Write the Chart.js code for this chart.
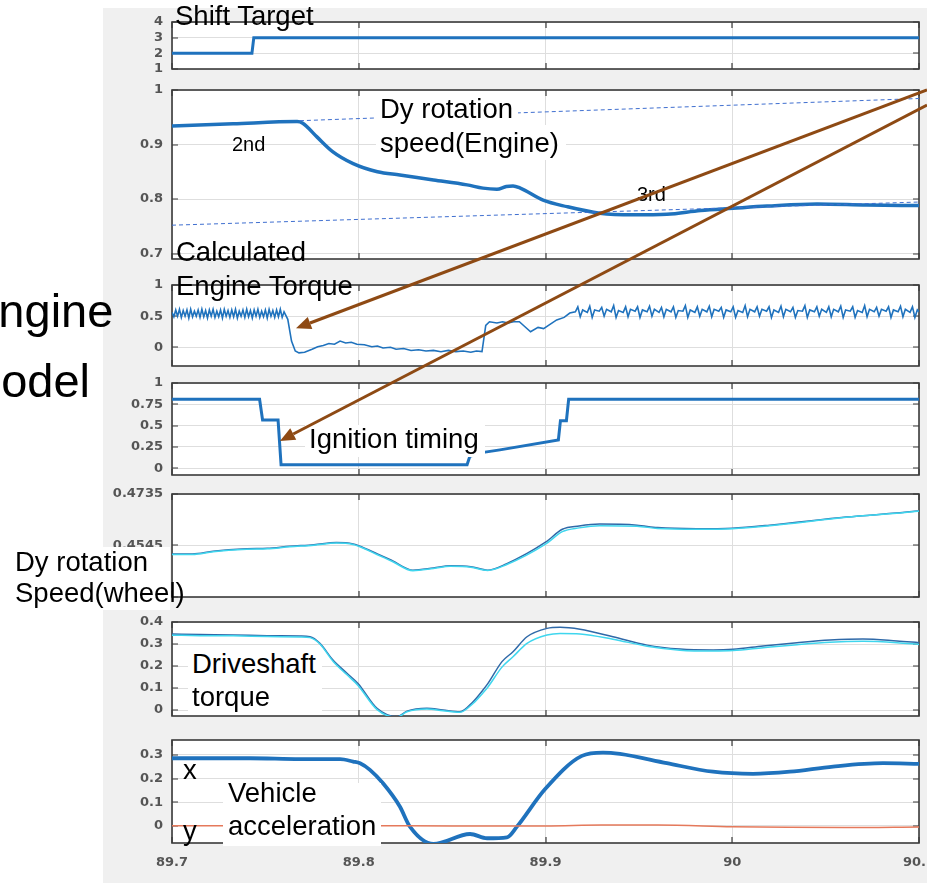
<!DOCTYPE html>
<html><head><meta charset="utf-8">
<script src="https://cdn.jsdelivr.net/npm/chart.js@4.4.1/dist/chart.umd.min.js"></script>
<style>
html,body{margin:0;padding:0;background:#fff;}
body{position:relative;width:927px;height:883px;overflow:hidden;font-family:"Liberation Sans",Arial,Helvetica,sans-serif;}
#fig{position:absolute;left:103px;top:8px;width:824px;height:875px;background:#f0f0f0;}
canvas.ch{position:absolute;left:0;z-index:1;}
.lbl{position:absolute;white-space:nowrap;color:#000;line-height:1;z-index:4;}
.wbox{position:absolute;background:#fff;z-index:3;}
#ov{position:absolute;left:0;top:0;pointer-events:none;z-index:5;}
</style></head><body>
<div id="fig"></div>
<script>
// ---------------- DATA ----------------
const xTicks = [89.7, 89.8, 89.9, 90.0, 90.1];

const shiftTarget = [[89.700,2],[89.7428,2],[89.7438,3],[90.100,3]];

const engineSpeed = [[89.700,0.934],[89.7327,0.938],[89.767,0.942],[89.770,0.939],[89.7776,0.914],[89.786,0.887],[89.797,0.865],[89.810,0.850],[89.822,0.844],[89.840,0.835],[89.858,0.826],[89.8665,0.820],[89.874,0.818],[89.879,0.823],[89.8826,0.824],[89.8865,0.820],[89.8987,0.798],[89.9115,0.786],[89.929,0.774],[89.947,0.771],[89.965,0.772],[89.983,0.779],[90.0004,0.783],[90.0186,0.787],[90.0454,0.791],[90.072,0.789],[90.100,0.788]];
const gear2Guide = [[89.7685,0.9437],[90.100,0.9844]];
const gear3Guide = [[89.700,0.752],[90.100,0.7945]];

const engineTorque = [
[89.700,0.56],[89.701,0.49],[89.702,0.60],[89.703,0.50],[89.704,0.61],[89.705,0.48],[89.706,0.59],[89.707,0.50],[89.708,0.60],[89.709,0.47],[89.710,0.61],[89.711,0.49],[89.712,0.58],[89.713,0.50],[89.714,0.60],[89.715,0.48],[89.716,0.61],[89.717,0.49],[89.718,0.59],[89.719,0.47],[89.720,0.60],[89.721,0.50],[89.722,0.61],[89.723,0.48],[89.724,0.58],[89.725,0.49],[89.726,0.60],[89.727,0.47],[89.728,0.61],[89.729,0.50],[89.730,0.59],[89.731,0.48],[89.732,0.60],[89.733,0.49],[89.734,0.61],[89.735,0.47],[89.736,0.58],[89.737,0.50],[89.738,0.60],[89.739,0.48],[89.740,0.61],[89.741,0.49],[89.742,0.59],[89.743,0.47],[89.744,0.60],[89.745,0.50],[89.746,0.61],[89.747,0.48],[89.748,0.58],[89.749,0.49],[89.750,0.60],[89.751,0.47],[89.752,0.61],[89.753,0.50],[89.754,0.59],[89.755,0.48],[89.756,0.60],[89.757,0.49],[89.758,0.61],[89.759,0.48],[89.760,0.57],
[89.762,0.45],[89.764,0.10],[89.766,-0.06],[89.768,-0.09],[89.771,-0.08],[89.775,-0.03],[89.778,0.01],[89.781,0.03],[89.784,0.06],[89.787,0.05],[89.790,0.10],[89.793,0.07],[89.796,0.08],[89.799,0.05],[89.803,0.04],[89.807,0.01],[89.810,0.02],[89.813,-0.01],[89.817,0.00],[89.820,-0.03],[89.824,-0.02],[89.828,-0.05],[89.832,-0.04],[89.836,-0.06],[89.840,-0.05],[89.844,-0.07],[89.848,-0.05],[89.852,-0.07],[89.856,-0.06],[89.860,-0.08],[89.863,-0.06],[89.866,-0.07],
[89.868,0.35],[89.870,0.41],[89.874,0.39],[89.877,0.41],[89.880,0.39],[89.883,0.41],[89.886,0.41],[89.889,0.33],[89.892,0.25],[89.896,0.32],[89.899,0.30],[89.902,0.36],[89.906,0.44],[89.910,0.48],[89.913,0.55],
[89.9160,0.57],[89.9173,0.65],[89.9186,0.49],[89.9199,0.60],
[89.9224,0.56],[89.9237,0.66],[89.9250,0.48],[89.9263,0.60],
[89.9288,0.58],[89.9301,0.64],[89.9314,0.50],[89.9327,0.61],
[89.9352,0.57],[89.9365,0.67],[89.9378,0.48],[89.9391,0.59],
[89.9416,0.56],[89.9429,0.65],[89.9442,0.49],[89.9455,0.61],
[89.9480,0.58],[89.9493,0.65],[89.9506,0.48],[89.9519,0.60],
[89.9544,0.57],[89.9557,0.66],[89.9570,0.50],[89.9583,0.61],
[89.9608,0.56],[89.9621,0.64],[89.9634,0.49],[89.9647,0.61],
[89.9672,0.57],[89.9685,0.65],[89.9698,0.48],[89.9711,0.59],
[89.9736,0.58],[89.9749,0.67],[89.9762,0.48],[89.9775,0.60],
[89.9800,0.56],[89.9813,0.65],[89.9826,0.50],[89.9839,0.61],
[89.9864,0.57],[89.9877,0.66],[89.9890,0.49],[89.9903,0.61],
[89.9928,0.58],[89.9941,0.64],[89.9954,0.48],[89.9967,0.60],
[89.9992,0.57],[90.0005,0.65],[90.0018,0.48],[90.0031,0.59],
[90.0056,0.56],[90.0069,0.67],[90.0082,0.49],[90.0095,0.61],
[90.0120,0.57],[90.0133,0.65],[90.0146,0.50],[90.0159,0.61],
[90.0184,0.58],[90.0197,0.65],[90.0210,0.48],[90.0223,0.60],
[90.0248,0.56],[90.0261,0.66],[90.0274,0.49],[90.0287,0.61],
[90.0312,0.57],[90.0325,0.64],[90.0338,0.48],[90.0351,0.59],
[90.0376,0.58],[90.0389,0.67],[90.0402,0.48],[90.0415,0.60],
[90.0440,0.57],[90.0453,0.65],[90.0466,0.50],[90.0479,0.61],
[90.0504,0.56],[90.0517,0.65],[90.0530,0.49],[90.0543,0.61],
[90.0568,0.57],[90.0581,0.66],[90.0594,0.48],[90.0607,0.60],
[90.0632,0.58],[90.0645,0.65],[90.0658,0.48],[90.0671,0.59],
[90.0696,0.56],[90.0709,0.67],[90.0722,0.49],[90.0735,0.61],
[90.0760,0.57],[90.0773,0.64],[90.0786,0.50],[90.0799,0.61],
[90.0824,0.58],[90.0837,0.65],[90.0850,0.48],[90.0863,0.60],
[90.0888,0.57],[90.0901,0.66],[90.0914,0.49],[90.0927,0.61],
[90.0952,0.56],[90.0965,0.65],[90.0978,0.48],[90.0991,0.60],
[90.1000,0.57]];

const ignitionTiming = [[89.700,0.81],[89.7469,0.81],[89.7485,0.565],[89.7568,0.565],[89.7584,0.04],[89.8580,0.04],[89.8595,0.14],[89.8659,0.183],[89.8756,0.215],[89.9069,0.332],[89.9080,0.558],[89.9112,0.558],[89.9124,0.809],[90.100,0.809]];

const wheelSpeedA = [[89.700,0.4514],[89.711,0.4514],[89.722,0.4524],[89.740,0.4533],[89.751,0.4535],[89.763,0.4542],[89.776,0.4548],[89.788,0.4556],[89.797,0.4551],[89.800,0.4544],[89.810,0.4514],[89.818,0.4489],[89.829,0.4454],[89.840,0.4462],[89.849,0.4470],[89.860,0.4467],[89.869,0.4454],[89.879,0.4477],[89.900,0.4557],[89.909,0.4605],[89.918,0.4617],[89.929,0.4624],[89.949,0.4620],[89.960,0.4611],[89.981,0.4607],[90.000,0.4609],[90.020,0.4620],[90.061,0.4650],[90.099,0.4672],[90.100,0.4673]];
const wheelSpeedB = [[89.700,0.4512],[89.711,0.4512],[89.722,0.4522],[89.740,0.4531],[89.751,0.4533],[89.763,0.4540],[89.776,0.4546],[89.788,0.4554],[89.797,0.4549],[89.800,0.4542],[89.810,0.4511],[89.818,0.4486],[89.829,0.4452],[89.840,0.4460],[89.849,0.4468],[89.860,0.4465],[89.869,0.4453],[89.879,0.4474],[89.900,0.4550],[89.909,0.4596],[89.918,0.4610],[89.929,0.4618],[89.949,0.4616],[89.960,0.4608],[89.981,0.4605],[90.000,0.4607],[90.020,0.4618],[90.061,0.4649],[90.099,0.4671],[90.100,0.4672]];

const driveTorqueA = [[89.700,0.345],[89.715,0.343],[89.7327,0.341],[89.7509,0.338],[89.7685,0.336],[89.7739,0.333],[89.7792,0.303],[89.7862,0.227],[89.7937,0.167],[89.7996,0.121],[89.8098,0.008],[89.8205,-0.030],[89.8258,-0.005],[89.8365,0.008],[89.8451,0.000],[89.8542,-0.008],[89.8612,0.038],[89.8665,0.091],[89.8692,0.121],[89.8767,0.220],[89.8826,0.265],[89.8901,0.333],[89.9008,0.371],[89.9078,0.376],[89.9185,0.367],[89.9361,0.333],[89.9544,0.295],[89.972,0.277],[89.9897,0.273],[90.0004,0.276],[90.0165,0.291],[90.0347,0.306],[90.0523,0.318],[90.070,0.323],[90.0882,0.314],[90.100,0.306]];
const driveTorqueB = [[89.700,0.340],[89.715,0.338],[89.7327,0.337],[89.7509,0.334],[89.7685,0.332],[89.7739,0.329],[89.7792,0.300],[89.7862,0.222],[89.7937,0.160],[89.7996,0.112],[89.8098,0.002],[89.8205,-0.033],[89.8258,-0.008],[89.8365,0.005],[89.8451,-0.003],[89.8542,-0.010],[89.8612,0.030],[89.8665,0.078],[89.8692,0.105],[89.8767,0.195],[89.8826,0.242],[89.8901,0.303],[89.9008,0.341],[89.9078,0.348],[89.9185,0.346],[89.9361,0.322],[89.9544,0.290],[89.972,0.272],[89.9897,0.268],[90.0004,0.270],[90.0165,0.283],[90.0347,0.297],[90.0523,0.308],[90.070,0.312],[90.0882,0.306],[90.100,0.298]];

const accelX = [[89.700,0.286],[89.7418,0.286],[89.7685,0.282],[89.790,0.282],[89.797,0.272],[89.8007,0.265],[89.806,0.237],[89.813,0.180],[89.822,0.082],[89.8274,-0.003],[89.840,-0.076],[89.8596,-0.034],[89.8687,-0.052],[89.8794,-0.048],[89.8847,-0.003],[89.8997,0.155],[89.9195,0.296],[89.9308,0.310],[89.9399,0.304],[89.965,0.265],[89.9897,0.229],[90.0111,0.220],[90.0309,0.229],[90.054,0.251],[90.0807,0.265],[90.100,0.262]];
const accelY = [[89.700,0.001],[89.800,0.001],[89.850,0.000],[89.900,0.000],[89.930,0.004],[89.960,0.004],[90.000,-0.003],[90.030,-0.006],[90.060,-0.007],[90.100,-0.004]];

const yTicks1 = [1,2,3,4];
const yTicks2 = [0.7,0.8,0.9,1];
const yTicks3 = [0,0.5,1];
const yTicks4 = [0,0.25,0.5,0.75,1];
const yTicks5 = [0.4355,0.4545,0.4735];
const yTicks6 = [0,0.1,0.2,0.3,0.4];
const yTicks7 = [0,0.1,0.2,0.3];

// ---------------- STYLE / LAYOUT ----------------
const FONT = '"Liberation Sans", Arial, Helvetica, sans-serif';
const TFONT = '"DejaVu Sans", Verdana, sans-serif';
const BLUE = '#1f72bd', DARKB = '#2f69a8', CYAN = '#3fd6ee', RED = '#e5795b', GUIDE = '#3f6fd0';
const GRID = '#dedede', AXC = '#3a3a3a', TICKC = '#555555';

const panels = [
  {top:22, bottom:69, min:1, max:4, ticks:yTicks1, sets:[{d:shiftTarget,c:BLUE,w:3}]},
  {top:90, bottom:259, min:0.69, max:1, ticks:yTicks2, sets:[
     {d:gear2Guide,c:GUIDE,w:1,dash:[4,3]},{d:gear3Guide,c:GUIDE,w:1,dash:[4,3]},
     {d:engineSpeed,c:BLUE,w:3.5,smooth:true}]},
  {top:285, bottom:366, min:-0.3, max:1, ticks:yTicks3, sets:[{d:engineTorque,c:BLUE,w:1.6}]},
  {top:383, bottom:475, min:-0.08, max:1, ticks:yTicks4, sets:[{d:ignitionTiming,c:BLUE,w:3}]},
  {top:494, bottom:597, min:0.4355, max:0.4735, ticks:yTicks5, sets:[{d:wheelSpeedB,c:CYAN,w:1.5,smooth:true},{d:wheelSpeedA,c:DARKB,w:1.5,smooth:true}]},
  {top:622, bottom:716, min:-0.027, max:0.4, ticks:yTicks6, sets:[{d:driveTorqueB,c:CYAN,w:1.5,smooth:true},{d:driveTorqueA,c:DARKB,w:1.5,smooth:true}]},
  {top:740, bottom:843, min:-0.072, max:0.363, ticks:yTicks7, last:true, sets:[{d:accelY,c:RED,w:1.5,smooth:true},{d:accelX,c:BLUE,w:3.8,smooth:true}]}
];

const boxPlugin = {
  id:'mbox',
  beforeDraw(chart){
    const a = chart.chartArea, c = chart.ctx;
    c.save(); c.fillStyle = '#fff';
    c.fillRect(a.left, a.top, a.right - a.left, a.bottom - a.top);
    c.restore();
  },
  beforeDatasetsDraw(chart){
    const a = chart.chartArea, c = chart.ctx, sy = chart.scales.y, sx = chart.scales.x;
    c.save();
    c.strokeStyle = AXC; c.lineWidth = 1.2;
    c.beginPath();
    sy.ticks.forEach(t => { const y = Math.round(sy.getPixelForValue(t.value));
      c.moveTo(a.left, y); c.lineTo(a.left + 6, y); c.moveTo(a.right, y); c.lineTo(a.right - 6, y); });
    sx.ticks.forEach(t => { const x = Math.round(sx.getPixelForValue(t.value));
      c.moveTo(x, a.top); c.lineTo(x, a.top + 6); c.moveTo(x, a.bottom); c.lineTo(x, a.bottom - 6); });
    c.stroke();
    c.lineWidth = 1.6;
    c.strokeRect(a.left, a.top, a.right - a.left, a.bottom - a.top);
    c.restore();
  }
};

const PAD = 12, XLBL = 40;
const charts = [], tops = [];
panels.forEach((p, i) => {
  const cv = document.createElement('canvas');
  cv.className = 'ch';
  const top = p.top - PAD;
  const h = (p.bottom - p.top) + PAD + (p.last ? XLBL : PAD);
  cv.width = 927; cv.height = h;
  cv.style.top = top + 'px'; cv.style.width = '927px'; cv.style.height = h + 'px';
  document.body.appendChild(cv);
  tops.push(top);
  const tickFont = {family: TFONT, size: 13, weight: 'bold'};
  const ch = new Chart(cv.getContext('2d'), {
    type: 'line',
    data: { datasets: p.sets.map(s => ({
      data: s.d.map(q => ({x: q[0], y: q[1]})),
      borderColor: s.c, borderWidth: s.w, borderDash: s.dash || [],
      pointRadius: 0, fill: false,
      cubicInterpolationMode: s.smooth ? 'monotone' : 'default', tension: 0
    }))},
    options: {
      responsive: false, animation: false, events: [],
      layout: {padding: {top: PAD, bottom: p.last ? 0 : PAD, left: 0, right: 8}},
      plugins: {legend: {display: false}, tooltip: {enabled: false}},
      scales: {
        x: {type: 'linear', min: 89.7, max: 90.1,
            afterBuildTicks: s => { s.ticks = xTicks.map(v => ({value: v})); },
            afterFit: s => { s.height = p.last ? XLBL : 0; s.paddingLeft = 0; s.paddingRight = 0; },
            grid: {color: GRID, lineWidth: 1, drawTicks: false},
            border: {display: false},
            ticks: {display: !!p.last, font: tickFont, color: TICKC, padding: 12, maxRotation: 0,
                    autoSkip: false, callback: v => String(Math.round(v * 10) / 10)}},
        y: {type: 'linear', min: p.min, max: p.max,
            afterBuildTicks: s => { s.ticks = p.ticks.map(v => ({value: v})); },
            afterFit: s => { s.width = 172; s.paddingTop = 0; s.paddingBottom = 0; },
            grid: {color: GRID, lineWidth: 1, drawTicks: false},
            border: {display: false},
            ticks: {font: tickFont, color: TICKC, padding: 9, autoSkip: false, callback: v => String(v)}}
      }
    },
    plugins: [boxPlugin]
  });
  charts.push(ch);
});

// ---------------- ANNOTATIONS ----------------
function addBox(l, t, w, h){ const d = document.createElement('div'); d.className = 'wbox';
  d.style.left = l + 'px'; d.style.top = t + 'px'; d.style.width = w + 'px'; d.style.height = h + 'px';
  document.body.appendChild(d); }
function addText(txt, left, base, size){ const d = document.createElement('div'); d.className = 'lbl';
  d.textContent = txt; d.style.left = left + 'px'; d.style.fontSize = size + 'px';
  d.style.top = (base - 0.8465 * size) + 'px'; document.body.appendChild(d); }

const LS = 27.5;
addBox(376, 95, 142, 30);
addBox(376, 125, 190, 35);
addBox(305, 425, 180, 32);
addBox(8, 547, 162, 63);
addBox(188, 648, 134, 65);
addBox(223, 783, 158, 63);

addText('Engine', -33, 327, 47);
addText('Model', -38, 397, 47);
addText('Shift Target', 175, 25, LS);
addText('Dy rotation', 380, 118, LS);
addText('speed(Engine)', 380, 152, LS);
addText('2nd', 232, 151, 20);
addText('3rd', 637, 201, 20);
addText('Calculated', 176, 261, LS);
addText('Engine Torque', 176, 295, LS);
addText('Ignition timing', 309, 448, LS);
addText('Dy rotation', 15, 571, LS);
addText('Speed(wheel)', 15, 602, LS);
addText('Driveshaft', 192, 673, LS);
addText('torque', 192, 706, LS);
addText('x', 183, 779, LS);
addText('Vehicle', 228, 802, LS);
addText('acceleration', 228, 835, LS);
addText('y', 183, 840, LS);

// brown arrows, anchored on the panels' scales
const ov = document.createElement('canvas'); ov.id = 'ov'; ov.width = 927; ov.height = 883;
document.body.appendChild(ov);
const oc = ov.getContext('2d');
function pt(i, xv, yv){ return [charts[i].scales.x.getPixelForValue(xv), tops[i] + charts[i].scales.y.getPixelForValue(yv)]; }
function arrow(from, to){
  const dx = to[0] - from[0], dy = to[1] - from[1], L = Math.hypot(dx, dy), ux = dx / L, uy = dy / L;
  const hl = 15, hw = 6.5;
  const bx = to[0] - ux * hl, by = to[1] - uy * hl;
  oc.strokeStyle = '#8e4a14'; oc.fillStyle = '#8e4a14'; oc.lineWidth = 3; oc.lineCap = 'butt';
  oc.beginPath(); oc.moveTo(from[0], from[1]); oc.lineTo(bx, by); oc.stroke();
  oc.beginPath(); oc.moveTo(to[0], to[1]);
  oc.lineTo(bx - uy * hw, by + ux * hw); oc.lineTo(bx + uy * hw, by - ux * hw); oc.closePath(); oc.fill();
}
arrow(pt(1, 90.1043, 1.0), pt(2, 89.7664, 0.305));
arrow(pt(1, 90.1043, 0.9725), pt(3, 89.7578, 0.32));
</script>
</body></html>
